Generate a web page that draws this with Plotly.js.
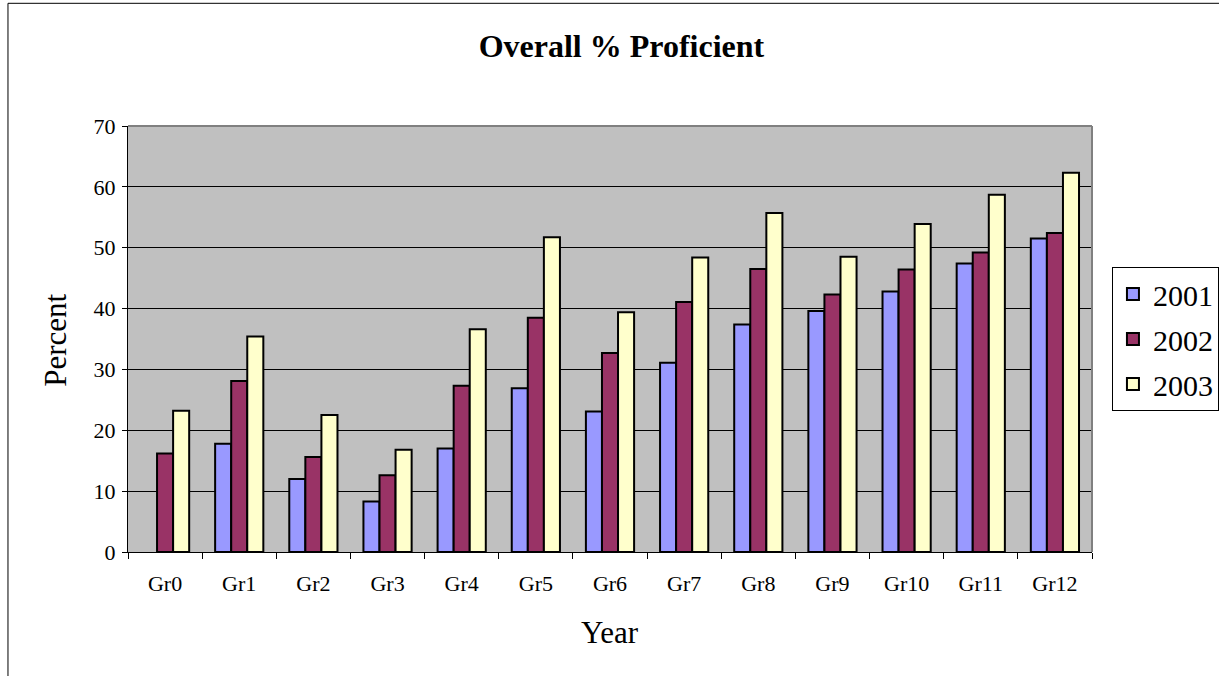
<!DOCTYPE html>
<html>
<head>
<meta charset="utf-8">
<script src="https://cdn.plot.ly/plotly-3.0.1.min.js"></script>
<style>
html,body{margin:0;padding:0;background:#fff;}
#chart{width:1219px;height:676px;}
</style>
</head>
<body>
<div id="chart"></div>
<script>
const categories = ["Gr0","Gr1","Gr2","Gr3","Gr4","Gr5","Gr6","Gr7","Gr8","Gr9","Gr10","Gr11","Gr12"];
const y2001 = [null, 17.8, 12.0, 8.3, 17.0, 26.9, 23.1, 31.1, 37.4, 39.6, 42.8, 47.4, 51.5];
const y2002 = [16.2, 28.1, 15.6, 12.6, 27.3, 38.5, 32.7, 41.1, 46.5, 42.3, 46.4, 49.2, 52.4];
const y2003 = [23.2, 35.4, 22.5, 16.8, 36.6, 51.7, 39.4, 48.4, 55.7, 48.5, 53.9, 58.7, 62.3];
const seriesNames = ["2001","2002","2003"];
const seriesColors = ["#9999FF","#993366","#FFFFCC"];
const yTicks = [0,10,20,30,40,50,60,70];

const font = "Liberation Serif";
const data = [y2001, y2002, y2003].map((vals, i) => ({
  type: "bar",
  name: seriesNames[i],
  legendgroup: "g" + i,
  x: categories,
  y: vals,
  marker: {color: seriesColors[i], line: {color: "#000", width: 2}}
}));

const layout = {
  width: 1219, height: 676,
  margin: {l: 128, r: 127, t: 126, b: 124, autoexpand: false},
  paper_bgcolor: "#fff",
  plot_bgcolor: "#C0C0C0",
  font: {family: font, color: "#000", size: 16},
  barmode: "group",
  bargap: 0.35,
  bargroupgap: 0,
  title: {text: "<b>Overall % Proficient</b>", font: {family: font, size: 32, color: "#000"},
          x: 0.5098, xref: "container", xanchor: "center", y: 0.932, yref: "container", yanchor: "middle"},
  xaxis: {
    type: "category",
    showline: true, linecolor: "#000", linewidth: 1,
    ticks: "outside", tickson: "boundaries", ticklen: 6, tickcolor: "#000",
    tickfont: {family: font, size: 22},
    ticklabelstandoff: 12,
    showgrid: false, zeroline: false, fixedrange: true
  },
  yaxis: {
    range: [0, 70], tickvals: yTicks,
    showline: true, linecolor: "#000", linewidth: 1,
    ticks: "outside", ticklen: 5, tickcolor: "#000",
    tickfont: {family: font, size: 22},
    ticklabelstandoff: 2,
    showgrid: true, gridcolor: "#000", gridwidth: 1,
    zeroline: false, fixedrange: true
  },
  legend: {
    x: 1.0207, xanchor: "left", y: 0.500, yanchor: "middle",
    bordercolor: "#000", borderwidth: 1, bgcolor: "#fff",
    traceorder: "grouped", tracegroupgap: 3,
    font: {family: font, size: 30}
  },
  shapes: [
    {type: "line", xref: "paper", yref: "paper", x0: 0, x1: 1, y0: 1, y1: 1, line: {color: "#808080", width: 2}},
    {type: "line", xref: "paper", yref: "paper", x0: 1, x1: 1, y0: 0, y1: 1, line: {color: "#808080", width: 2}},
    {type: "line", xref: "paper", yref: "paper", x0: -0.1245, x1: -0.1245, y0: -0.3, y1: 1.288, line: {color: "#000", width: 1}},
    {type: "line", xref: "paper", yref: "paper", x0: -0.1245, x1: 1.2, y0: 1.288, y1: 1.288, line: {color: "#000", width: 1}}
  ],
  annotations: [
    {text: "Percent", xref: "paper", yref: "paper", x: -0.0747, y: 0.498, xanchor: "center", yanchor: "middle",
     textangle: -90, showarrow: false, font: {family: font, size: 31}},
    {text: "Year", xref: "paper", yref: "paper", x: 0.5, y: -0.190, xanchor: "center", yanchor: "middle",
     showarrow: false, font: {family: font, size: 31}}
  ]
};

Plotly.newPlot("chart", data, layout, {displayModeBar: false, staticPlot: true});
</script>
</body>
</html>
